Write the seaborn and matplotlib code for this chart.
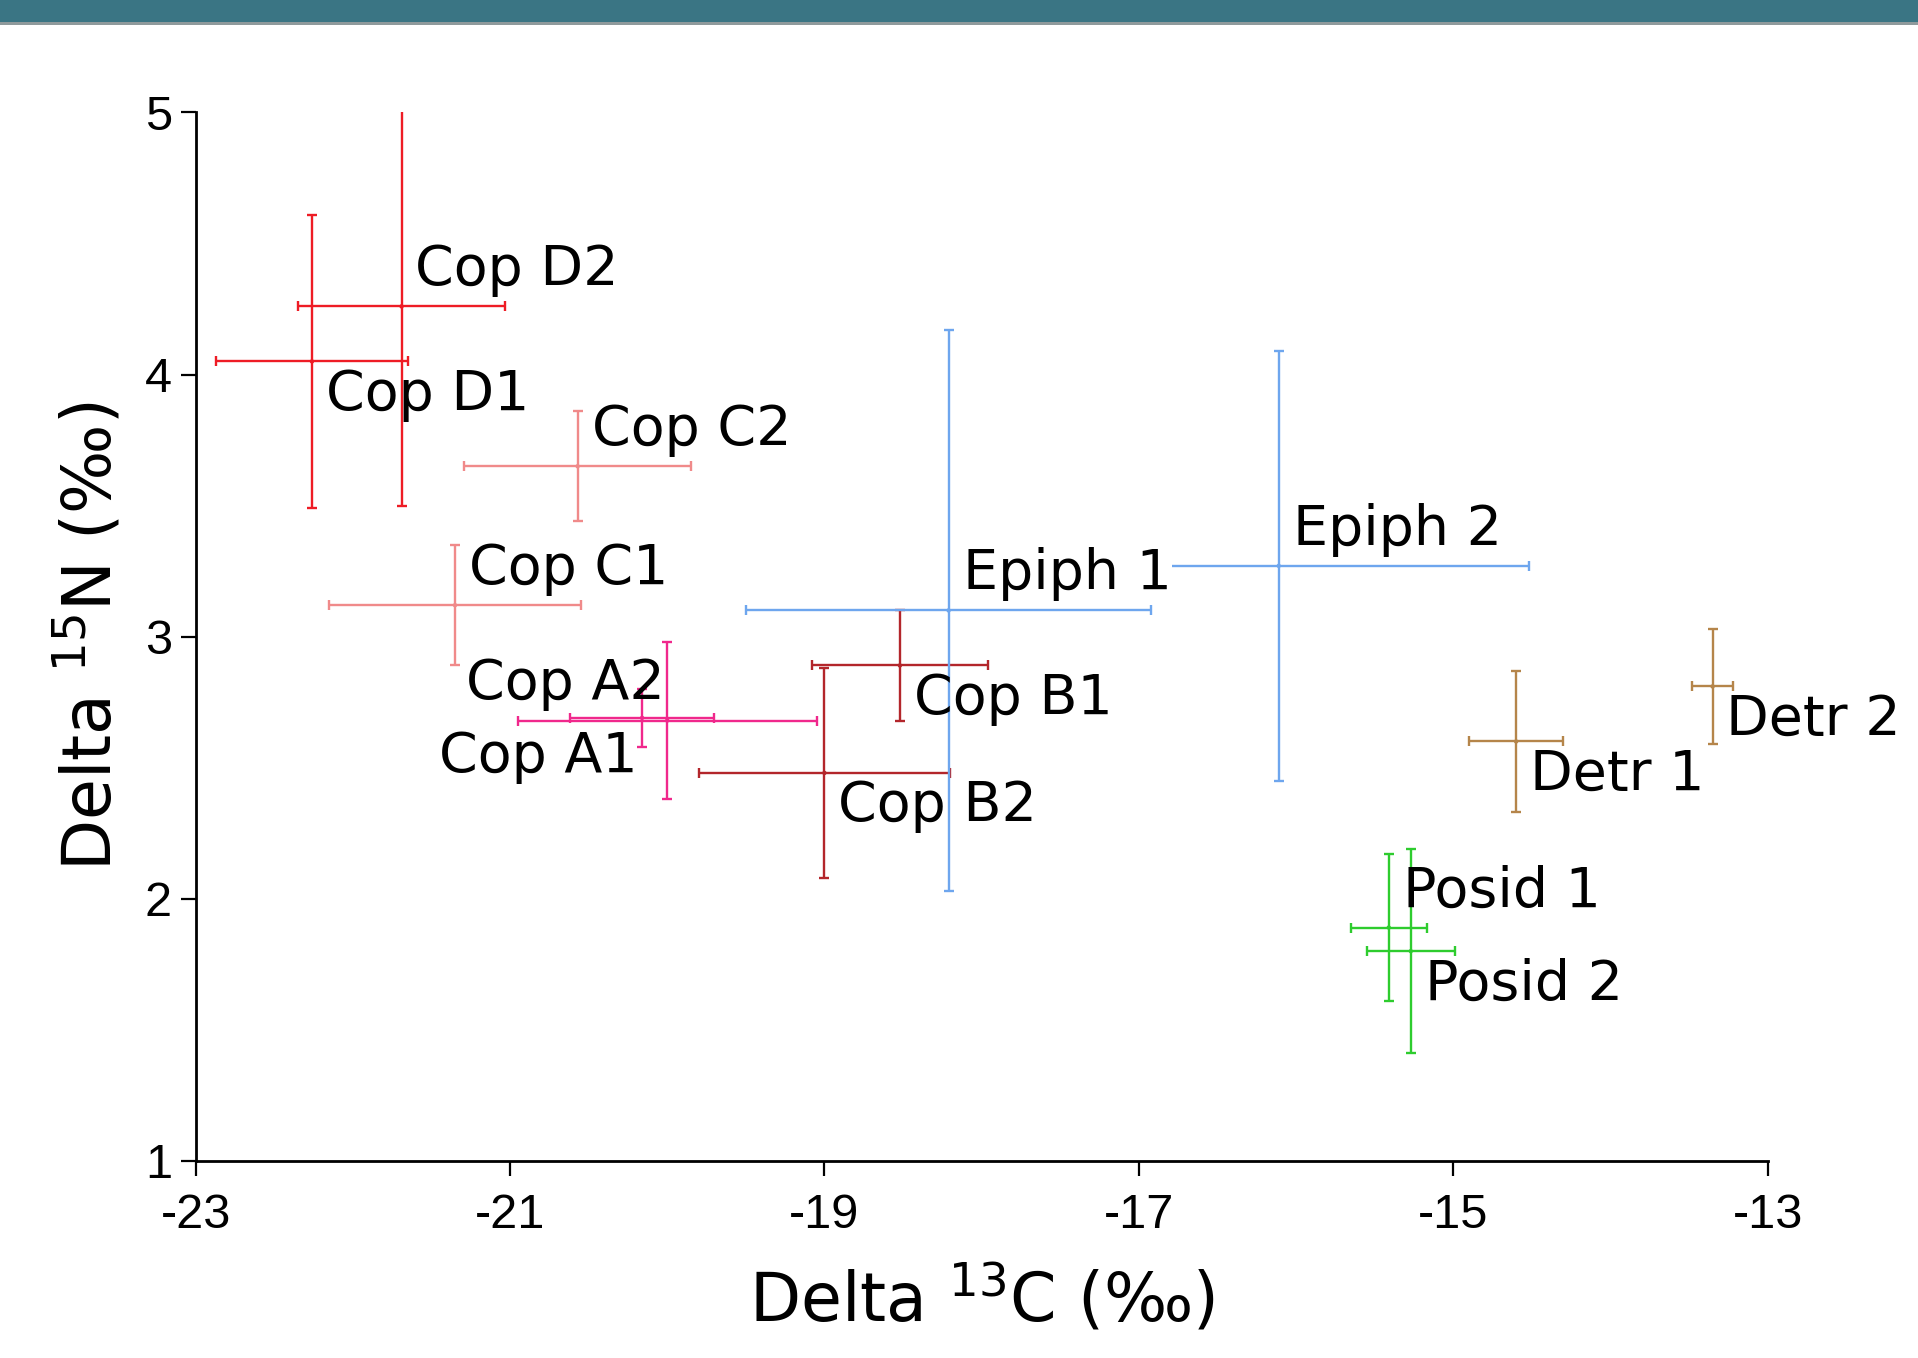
import numpy as np
import pandas as pd
import matplotlib
matplotlib.use("Agg")
import matplotlib.pyplot as plt
import seaborn as sns
from matplotlib.patches import Rectangle

# Stable isotope values (mean +/- error)
names = ["Cop A1", "Cop A2", "Cop B1", "Cop B2", "Cop C1", "Cop C2", "Cop D1",
         "Cop D2", "Epiph 1", "Epiph 2", "Detr 1", "Detr 2", "Posid 1", "Posid 2"]
groups = ["Cop A", "Cop A", "Cop B", "Cop B", "Cop C", "Cop C", "Cop D",
          "Cop D", "Epiph", "Epiph", "Detr", "Detr", "Posid", "Posid"]
d13c = [-20.16, -20.00, -18.52, -19.00, -21.35, -20.57, -22.26,
        -21.69, -18.21, -16.11, -14.60, -13.35, -15.41, -15.27]
d13c_err = [0.46, 0.95, 0.56, 0.80, 0.80, 0.72, 0.61,
            0.66, 1.29, 1.59, 0.30, 0.13, 0.24, 0.28]
d15n = [2.69, 2.68, 2.89, 2.48, 3.12, 3.65, 4.05,
        4.26, 3.10, 3.27, 2.60, 2.81, 1.89, 1.80]
d15n_err = [0.11, 0.30, 0.21, 0.40, 0.23, 0.21, 0.56,
            0.76, 1.07, 0.82, 0.27, 0.22, 0.28, 0.39]

x_ticks = [-23, -21, -19, -17, -15, -13]
y_ticks = [1, 2, 3, 4, 5]

palette = {
    "Cop A": "#f0288c",
    "Cop B": "#b3262b",
    "Cop C": "#f08a8a",
    "Cop D": "#ee1c25",
    "Epiph": "#6ea6ee",
    "Detr": "#b5854a",
    "Posid": "#2ecc2e",
}

# label placement: u/l = above/below, r/l = right/left of the centre
label_side = ["ll", "ul", "lr", "lr", "ur", "ur", "lr",
              "ur", "ur", "ur", "lr", "lr", "ur", "lr"]
offsets = {"ur": (10, 26, "left"), "lr": (10, -24, "left"),
           "ul": (-2, 26, "right"), "ll": (-3, -28, "right")}

df = pd.DataFrame({"name": names, "group": groups, "d13c": d13c,
                   "d13c_err": d13c_err, "d15n": d15n, "d15n_err": d15n_err})

sns.set_theme(style="ticks")
plt.rcParams["font.family"] = ["DejaVu Sans"]
plt.rcParams["text.color"] = "black"
plt.rcParams["axes.labelcolor"] = "black"
plt.rcParams["xtick.color"] = "black"
plt.rcParams["ytick.color"] = "black"

fig = plt.figure(figsize=(19.18, 13.58), dpi=100)
ax = fig.add_axes([0.102, 0.1452, 0.8196, 0.772])

# teal header band at the top of the slide
fig.patches.append(Rectangle((0, 1 - 22 / 1358), 1, 22 / 1358, transform=fig.transFigure,
                             facecolor="#3a7584", edgecolor="none", zorder=0))
fig.patches.append(Rectangle((0, 1 - 25 / 1358), 1, 3 / 1358, transform=fig.transFigure,
                             facecolor="#8f9a9c", edgecolor="none", zorder=0))

for _, row in df.iterrows():
    ax.errorbar(row["d13c"], row["d15n"], xerr=row["d13c_err"], yerr=row["d15n_err"],
                fmt="none", ecolor=palette[row["group"]], elinewidth=1.7,
                capsize=3.5, capthick=1.7, zorder=2)

sns.scatterplot(data=df, x="d13c", y="d15n", hue="group", palette=palette,
                s=10, edgecolor="none", legend=False, ax=ax, zorder=3)

for i, row in df.iterrows():
    dx, dy, ha = offsets[label_side[i]]
    bbox = None
    if row["name"] == "Epiph 1":
        bbox = dict(facecolor="white", edgecolor="none", pad=0.5)
    ax.annotate(row["name"], (row["d13c"], row["d15n"]), xytext=(dx, dy),
                textcoords="offset points", ha=ha, va="center",
                fontsize=40, color="black", zorder=4, bbox=bbox)

ax.set_xlim(-23, -13)
ax.set_ylim(1, 5)
ax.set_xticks(x_ticks)
ax.set_yticks(y_ticks)
ax.set_xticklabels([str(v) for v in x_ticks], family=["Liberation Sans", "DejaVu Sans"])
ax.set_yticklabels([str(v) for v in y_ticks], family=["Liberation Sans", "DejaVu Sans"])
ax.tick_params(axis="both", labelsize=35, length=11, width=1.6, color="black",
               direction="out")
ax.tick_params(axis="x", pad=12)
ax.tick_params(axis="y", pad=6)

sns.despine(ax=ax)
for side in ["left", "bottom"]:
    ax.spines[side].set_linewidth(2.0)
    ax.spines[side].set_color("black")

ax.set_xlabel(r"Delta $\mathregular{^{13}}$C (‰)", fontsize=48, labelpad=18)
ax.set_ylabel(r"Delta $\mathregular{^{15}}$N (‰)", fontsize=48, labelpad=14)
ax.grid(False)

fig.savefig("out.png", dpi=100, facecolor="white")
